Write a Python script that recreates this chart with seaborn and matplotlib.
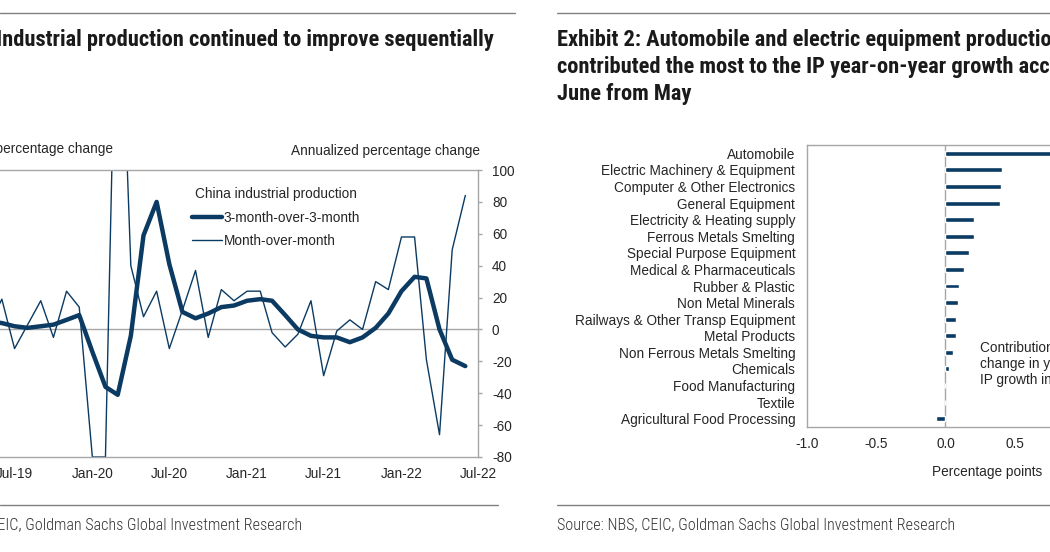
import numpy as np
import pandas as pd
import matplotlib
matplotlib.use('Agg')
import matplotlib.pyplot as plt
import seaborn as sns
from matplotlib import font_manager
from matplotlib.lines import Line2D

# Exhibit 1: China industrial production, annualized % change
meses = pd.date_range('2019-05-01', '2022-06-01', freq='MS')
tres_meses = [5, 4, 2, 1, 2, 3, 6, 9,
              -14, -36, -41, -4, 59, 80, 41, 11, 7, 10, 14, 15,
              18, 19, 18, 9, 0, -4, -5, -5, -8, -5, 1, 10,
              24, 33, 32, 0, -19, -23]
mes_a_mes = [2, 19, -12, 3, 18, -5, 24, 14,
             -80, -80, 266, 40, 8, 24, -12, 12, 37, -5, 25, 18,
             24, 24, -2, -11, -3, 18, -29, -1, 6, 0, 30, 25,
             58, 58, -19, -66, 50, 84]
ticks_x = pd.to_datetime(['2019-07-01', '2020-01-01', '2020-07-01', '2021-01-01',
                          '2021-07-01', '2022-01-01', '2022-07-01'])
etiquetas_x = ['Jul-19', 'Jan-20', 'Jul-20', 'Jan-21', 'Jul-21', 'Jan-22', 'Jul-22']
ticks_y = [-80, -60, -40, -20, 0, 20, 40, 60, 80, 100]

# Exhibit 2: contribution to change in yoy IP growth (pp)
sectores = ['Automobile', 'Electric Machinery & Equipment', 'Computer & Other Electronics',
            'General Equipment', 'Electricity & Heating supply', 'Ferrous Metals Smelting',
            'Special Purpose Equipment', 'Medical & Pharmaceuticals', 'Rubber & Plastic',
            'Non Metal Minerals', 'Railways & Other Transp Equipment', 'Metal Products',
            'Non Ferrous Metals Smelting', 'Chemicals', 'Food Manufacturing', 'Textile',
            'Agricultural Food Processing']
contribucion = [1.05, 0.41, 0.40, 0.395, 0.21, 0.205, 0.17, 0.135, 0.095,
                0.09, 0.08, 0.078, 0.058, 0.026, -0.005, -0.005, -0.065]
ticks_x2 = [-1.0, -0.5, 0.0, 0.5, 1.0, 1.5]

azul = '#0b3a62'
gris = '#a6a6a6'

sns.set_style('white')
plt.rcParams['font.family'] = ['Liberation Sans', 'DejaVu Sans']
plt.rcParams['axes.unicode_minus'] = False

nombres = {f.name for f in font_manager.fontManager.ttflist}
estrecha = next((n for n in ['Roboto Condensed', 'Liberation Sans Narrow', 'Arial Narrow']
                 if n in nombres), 'Roboto')

W, H = 1050, 552
fig = plt.figure(figsize=(W / 100, H / 100), dpi=100)


def caja(x0, y0, x1, y1):
    return fig.add_axes([x0 / W, 1 - y1 / H, (x1 - x0) / W, (y1 - y0) / H])


fs = 9.8

# --- left chart ---
ax = caja(-62, 170, 478, 457)
sns.lineplot(x=meses, y=tres_meses, color=azul, linewidth=3.2, label='3-month-over-3-month', ax=ax)
sns.lineplot(x=meses, y=mes_a_mes, color=azul, linewidth=1.0, label='Month-over-month', ax=ax)
ax.set_xlim(pd.Timestamp('2019-01-01'), pd.Timestamp('2022-07-01'))
ax.set_ylim(-80, 100)
ax.axhline(0, color=gris, lw=1, zorder=0)
ax.yaxis.tick_right()
ax.set_yticks(ticks_y)
ax.set_xticks(ticks_x)
ax.set_xticklabels(etiquetas_x)
ax.tick_params(axis='both', labelsize=fs, length=3, width=1, color=gris, direction='out')
ax.tick_params(axis='y', pad=7)
ax.tick_params(axis='x', pad=4)
ax.set_xlabel('')
ax.set_ylabel('')
for s in ax.spines.values():
    s.set_color(gris)
    s.set_linewidth(1)
ax.spines['left'].set_visible(False)
ax.legend(title='China industrial production', loc='upper left',
          bbox_to_anchor=(192 / W, 1 - 187 / H), bbox_transform=fig.transFigure,
          frameon=False, fontsize=fs, title_fontsize=fs, handlelength=2.2,
          handletextpad=0.15, labelspacing=0.7, borderpad=0, borderaxespad=0)
fig.text(113 / W, 1 - 149 / H, 'Annualized percentage change', ha='right', va='center', fontsize=fs)
fig.text(480 / W, 1 - 151 / H, 'Annualized percentage change', ha='right', va='center', fontsize=fs)

# --- right chart ---
ax2 = caja(807, 145, 1153, 427)
sns.barplot(x=contribucion, y=sectores, color=azul, saturation=1, width=0.3, orient='h', ax=ax2)
ax2.set_xlim(-1.0, 1.5)
ax2.axvline(0, color=gris, lw=1, zorder=0)
ax2.set_xticks(ticks_x2)
ax2.set_xticklabels([f'{t:.1f}' for t in ticks_x2])
ax2.tick_params(axis='x', labelsize=fs, length=3, width=1, color=gris, pad=4, direction='out')
ax2.tick_params(axis='y', labelsize=fs, length=0, pad=8.5)
for s in ax2.spines.values():
    s.set_color(gris)
    s.set_linewidth(1)
fig.text(987 / W, 1 - 472 / H, 'Percentage points', ha='center', va='center', fontsize=fs)
fig.text(980 / W, 1 - 364 / H, 'Contribution to the\nchange in yoy\nIP growth in June',
         ha='left', va='center', fontsize=fs, linespacing=1.17)

# --- titles, rules, sources ---
fig.text(494 / W, 1 - 40 / H, 'Exhibit 1: Industrial production continued to improve sequentially',
         ha='right', va='center', fontsize=16.2, fontweight='bold', family=estrecha, color='#1a1a1a')
titulo2 = ['Exhibit 2: Automobile and electric equipment production',
           'contributed the most to the IP year-on-year growth acceleration in',
           'June from May']
for i, linea in enumerate(titulo2):
    fig.text(557 / W, 1 - (40 + 27 * i) / H, linea, ha='left', va='center', fontsize=16.2,
             fontweight='bold', family=estrecha, color='#1a1a1a')

for x0, x1 in [(0, 515), (557, 1050)]:
    fig.add_artist(Line2D([x0 / W, x1 / W], [1 - 13 / H] * 2, color='#808080', lw=1))
for x0, x1 in [(0, 498), (557, 1050)]:
    fig.add_artist(Line2D([x0 / W, x1 / W], [1 - 505 / H] * 2, color='#808080', lw=1))

fuente = 'Source: NBS, CEIC, Goldman Sachs Global Investment Research'
fig.text(302 / W, 1 - 525 / H, fuente, ha='right', va='center', fontsize=11.6,
         fontweight='light', family=estrecha, color='#333333')
fig.text(557 / W, 1 - 525 / H, fuente, ha='left', va='center', fontsize=11.6,
         fontweight='light', family=estrecha, color='#333333')

fig.savefig('out.png', dpi=100)
